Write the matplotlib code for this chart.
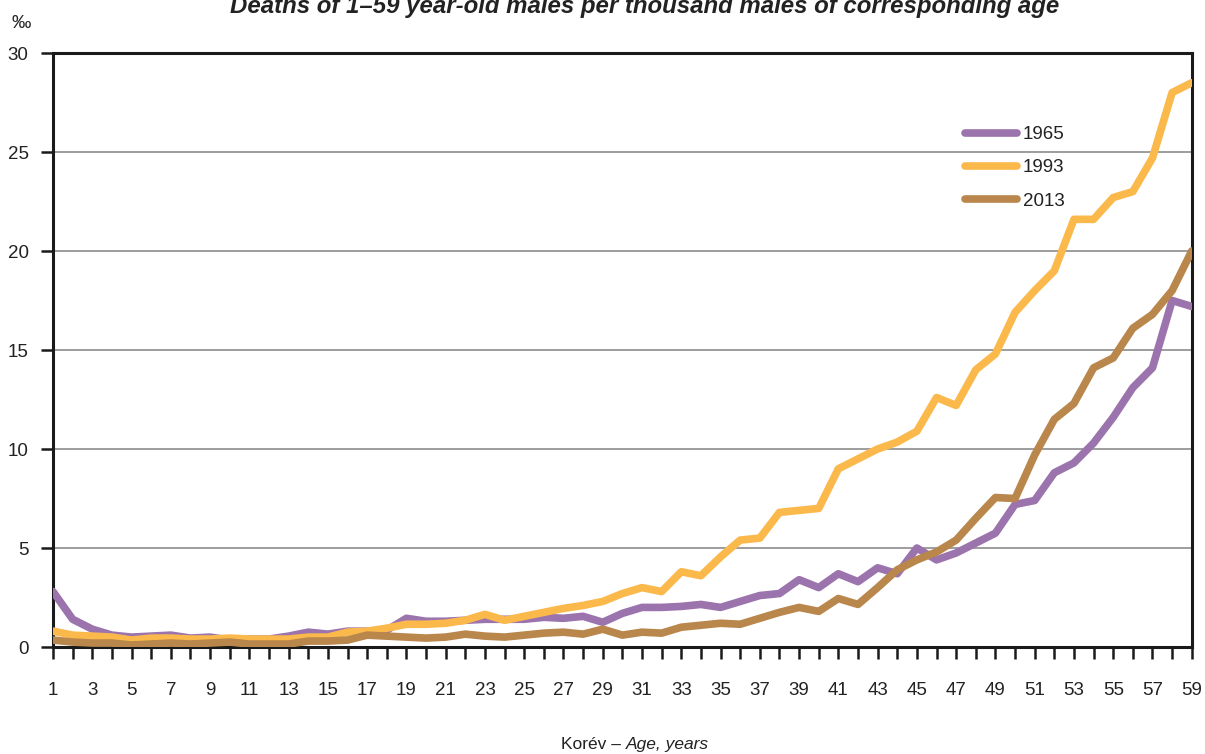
import numpy as np
import matplotlib
matplotlib.use('Agg')
from matplotlib import pyplot as plt

ages = list(range(1, 60))

deaths_1965 = [2.8, 1.4, 0.9, 0.6, 0.5, 0.55, 0.6, 0.45, 0.5, 0.35,
               0.4, 0.4, 0.55, 0.75, 0.65, 0.8, 0.8, 0.85, 1.45, 1.3,
               1.3, 1.35, 1.4, 1.4, 1.4, 1.5, 1.45, 1.55, 1.25, 1.7,
               2.0, 2.0, 2.05, 2.15, 2.0, 2.3, 2.6, 2.7, 3.4, 3.0,
               3.7, 3.3, 4.0, 3.7, 5.0, 4.4, 4.75, 5.25, 5.75, 7.2,
               7.4, 8.8, 9.3, 10.3, 11.6, 13.1, 14.1, 17.5, 17.2]

deaths_1993 = [0.8, 0.6, 0.55, 0.5, 0.35, 0.45, 0.45, 0.4, 0.4, 0.45,
               0.4, 0.4, 0.4, 0.5, 0.5, 0.75, 0.8, 0.95, 1.15, 1.15,
               1.2, 1.35, 1.65, 1.35, 1.55, 1.75, 1.95, 2.1, 2.3, 2.7,
               3.0, 2.8, 3.8, 3.6, 4.55, 5.4, 5.5, 6.8, 6.9, 7.0,
               9.0, 9.5, 10.0, 10.35, 10.9, 12.6, 12.2, 14.0, 14.8, 16.9,
               18.0, 19.0, 21.6, 21.6, 22.7, 23.0, 24.7, 28.0, 28.5]

deaths_2013 = [0.35, 0.25, 0.2, 0.2, 0.1, 0.15, 0.2, 0.15, 0.2, 0.25,
               0.15, 0.15, 0.15, 0.3, 0.3, 0.35, 0.6, 0.55, 0.5, 0.45,
               0.5, 0.65, 0.55, 0.5, 0.6, 0.7, 0.75, 0.65, 0.9, 0.6,
               0.75, 0.7, 1.0, 1.1, 1.2, 1.15, 1.45, 1.75, 2.0, 1.8,
               2.45, 2.15, 3.0, 3.9, 4.4, 4.8, 5.4, 6.5, 7.55, 7.5,
               9.7, 11.5, 12.3, 14.1, 14.6, 16.1, 16.8, 18.0, 20.0]

series = [('1965', deaths_1965, '#9b73ad'),
          ('1993', deaths_1993, '#fbb94c'),
          ('2013', deaths_2013, '#b9864c')]

plt.rcParams['font.family'] = ['Liberation Sans', 'DejaVu Sans']

fig = plt.figure(figsize=(12.05, 7.54), dpi=100)
ax = fig.add_axes([0.044, 0.1419, 0.945, 0.7878])

for name, vals, col in series:
    ax.plot(ages, vals, color=col, lw=5.5, label=name,
            solid_joinstyle='round', solid_capstyle='round', zorder=3)

ax.set_xlim(1, 59)
ax.set_ylim(0, 30)
ax.set_yticks([0, 5, 10, 15, 20, 25, 30])
ax.set_xticks(ages[::2])
ax.set_xticks(ages, minor=True)
ax.yaxis.grid(True, color='#8c8c8c', lw=1.2)
ax.set_axisbelow(True)

for s in ax.spines.values():
    s.set_linewidth(2.2)
    s.set_color('#1a1a1a')

ax.tick_params(axis='both', which='both', direction='out', length=8.5,
               width=1.8, color='#1a1a1a', labelsize=13.5, labelcolor='#222222')
ax.tick_params(axis='x', pad=17)
ax.tick_params(axis='y', pad=9)

leg = ax.legend(loc='upper left', bbox_to_anchor=(0.786, 0.905), frameon=False,
                fontsize=13.5, handlelength=2.8, labelspacing=0.85,
                handletextpad=0.3)
for t in leg.get_texts():
    t.set_color('#222222')

fig.text(0.0175, 0.969, '‰', fontsize=14, color='#222222', ha='center', va='center')

fig.text(0.535, 0.983, 'Deaths of 1–59 year-old males per thousand males of corresponding age',
         ha='center', va='baseline', fontsize=17.3, fontweight='bold', fontstyle='italic',
         color='#222222')

fig.text(0.5195, 0.012, 'Korév – ', ha='right', va='center', fontsize=12.5, color='#222222')
fig.text(0.5195, 0.012, 'Age, years', ha='left', va='center', fontsize=12.5,
         fontstyle='italic', color='#222222')

fig.savefig('out.png', dpi=100)
